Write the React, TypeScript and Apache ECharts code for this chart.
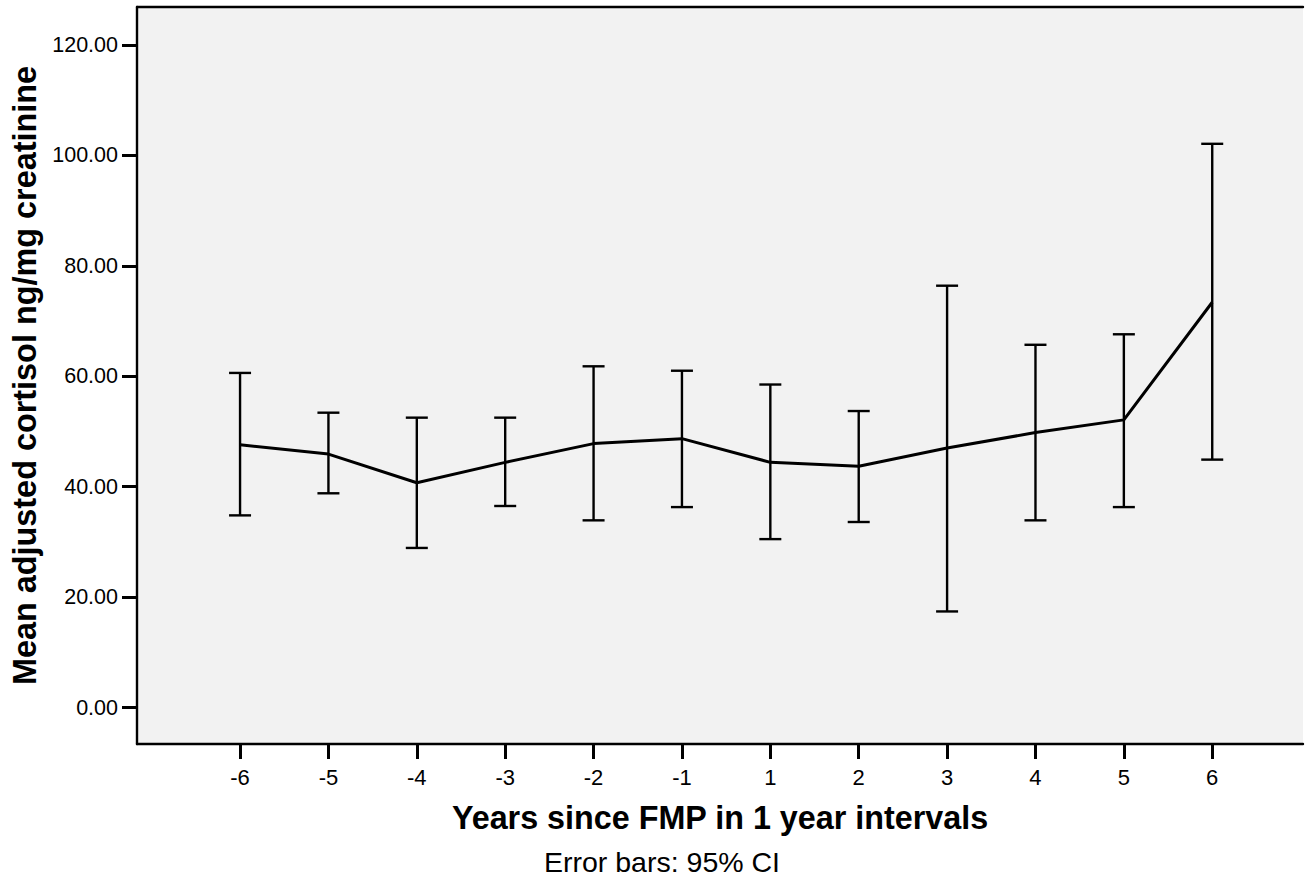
import React, { useEffect, useRef } from "react";
import * as echarts from "echarts";

const years = ["-6", "-5", "-4", "-3", "-2", "-1", "1", "2", "3", "4", "5", "6"];
const means = [47.6, 45.9, 40.7, 44.4, 47.8, 48.7, 44.4, 43.7, 47.0, 49.8, 52.1, 73.4];
const upper = [60.6, 53.4, 52.5, 52.5, 61.8, 61.0, 58.5, 53.7, 76.4, 65.7, 67.6, 102.1];
const lower = [34.8, 38.8, 28.9, 36.5, 33.9, 36.3, 30.5, 33.6, 17.4, 33.9, 36.3, 44.9];
const yTicks = [0, 20, 40, 60, 80, 100, 120];

const FONT = "'Liberation Sans', Arial, sans-serif";

export default function App() {
  const ref = useRef<HTMLDivElement>(null);
  useEffect(() => {
    if (!ref.current) return;
    const chart = echarts.init(ref.current, null, { renderer: "svg" });
    const idx = years.map((_, i) => i);
    const xMin = -1.166;
    const xMax = 12.027;
    chart.setOption({
      animation: false,
      backgroundColor: "#ffffff",
      title: {
        text: "Error bars: 95% CI",
        left: 539,
        top: 842,
        textStyle: { fontFamily: FONT, fontSize: 28.5, fontWeight: "normal", color: "#000" },
      },
      grid: {
        left: 137,
        right: 6,
        top: 7,
        bottom: 137,
        show: true,
        backgroundColor: "#f2f2f2",
        borderWidth: 0,
      },
      xAxis: [
        {
          type: "value",
          position: "bottom",
          min: xMin,
          max: xMax,
          axisLine: { show: true, onZero: false, lineStyle: { color: "#000", width: 2.4 } },
          axisTick: { show: true, customValues: idx, length: 15, lineStyle: { color: "#000", width: 3 } },
          axisLabel: {
            customValues: idx,
            formatter: (v: number) => years[Math.round(v)] ?? "",
            fontFamily: FONT,
            fontSize: 22,
            color: "#000",
            margin: 22,
          },
          splitLine: { show: false },
          name: "Years since FMP in 1 year intervals",
          nameLocation: "middle",
          nameGap: 58,
          nameTextStyle: { fontFamily: FONT, fontSize: 32.3, fontWeight: "bold", color: "#000" },
        },
        {
          type: "value",
          position: "top",
          min: xMin,
          max: xMax,
          axisLine: { show: true, onZero: false, lineStyle: { color: "#000", width: 2.4 } },
          axisTick: { show: false },
          axisLabel: { show: false },
          splitLine: { show: false },
        },
      ],
      yAxis: {
        type: "value",
        min: -6.61,
        max: 126.88,
        axisLine: { show: true, onZero: false, lineStyle: { color: "#000", width: 2.4 } },
        axisTick: { show: true, customValues: yTicks, length: 15, lineStyle: { color: "#000", width: 3 } },
        axisLabel: {
          customValues: yTicks,
          formatter: (v: number) => v.toFixed(2),
          fontFamily: FONT,
          fontSize: 21.5,
          color: "#000",
          margin: 19,
        },
        splitLine: { show: false },
        name: "Mean adjusted cortisol ng/mg creatinine",
        nameLocation: "middle",
        nameGap: 91,
        nameTextStyle: { fontFamily: FONT, fontSize: 32.4, fontWeight: "bold", color: "#000" },
      },
      series: [
        {
          type: "custom",
          xAxisIndex: 0,
          data: idx.map((i) => [i, lower[i], upper[i]]),
          renderItem: (params: any, api: any) => {
            const x = api.value(0);
            const lo = api.coord([x, api.value(1)]);
            const hi = api.coord([x, api.value(2)]);
            const hw = 11;
            const style = { stroke: "#000", lineWidth: 2.4 };
            return {
              type: "group",
              children: [
                { type: "line", shape: { x1: lo[0], y1: lo[1], x2: hi[0], y2: hi[1] }, style },
                { type: "line", shape: { x1: hi[0] - hw, y1: hi[1], x2: hi[0] + hw, y2: hi[1] }, style },
                { type: "line", shape: { x1: lo[0] - hw, y1: lo[1], x2: lo[0] + hw, y2: lo[1] }, style },
              ],
            };
          },
          z: 3,
        },
        {
          type: "line",
          xAxisIndex: 0,
          data: idx.map((i) => [i, means[i]]),
          symbol: "none",
          lineStyle: { color: "#000", width: 3 },
          z: 4,
        },
      ],
    });
    return () => chart.dispose();
  }, []);
  return (
    <div
      ref={ref}
      style={{ position: "fixed", left: 0, top: 0, width: 1309, height: 881 }}
    />
  );
}
